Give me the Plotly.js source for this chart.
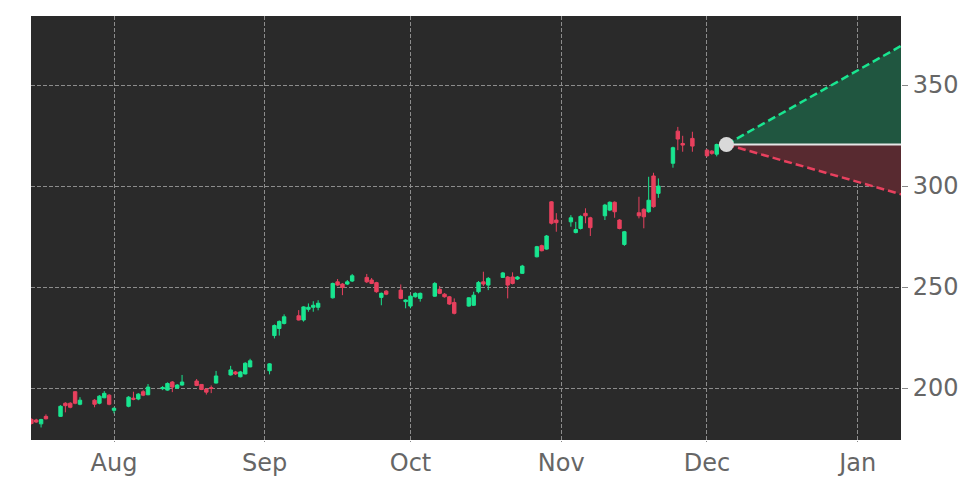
<!DOCTYPE html>
<html>
<head>
<meta charset="utf-8">
<script src="https://cdn.plot.ly/plotly-3.0.1.min.js"></script>
<style>html,body{margin:0;padding:0;background:#fff;}#chart{width:972px;height:486px;}</style>
</head>
<body>
<div id="chart"></div>
<script>
const dates = ['2025-07-15','2025-07-16','2025-07-17','2025-07-18','2025-07-21','2025-07-22','2025-07-23','2025-07-24','2025-07-25','2025-07-28','2025-07-29','2025-07-30','2025-07-31','2025-08-01','2025-08-04','2025-08-05','2025-08-06','2025-08-07','2025-08-08','2025-08-11','2025-08-12','2025-08-13','2025-08-14','2025-08-15','2025-08-18','2025-08-19','2025-08-20','2025-08-21','2025-08-22','2025-08-25','2025-08-26','2025-08-27','2025-08-28','2025-08-29','2025-09-02','2025-09-03','2025-09-04','2025-09-05','2025-09-08','2025-09-09','2025-09-10','2025-09-11','2025-09-12','2025-09-15','2025-09-16','2025-09-17','2025-09-18','2025-09-19','2025-09-22','2025-09-23','2025-09-24','2025-09-25','2025-09-26','2025-09-29','2025-09-30','2025-10-01','2025-10-02','2025-10-03','2025-10-06','2025-10-07','2025-10-08','2025-10-09','2025-10-10','2025-10-13','2025-10-14','2025-10-15','2025-10-16','2025-10-17','2025-10-20','2025-10-21','2025-10-22','2025-10-23','2025-10-24','2025-10-27','2025-10-28','2025-10-29','2025-10-30','2025-10-31','2025-11-03','2025-11-04','2025-11-05','2025-11-06','2025-11-07','2025-11-10','2025-11-11','2025-11-12','2025-11-13','2025-11-14','2025-11-17','2025-11-18','2025-11-19','2025-11-20','2025-11-21','2025-11-24','2025-11-25','2025-11-26','2025-11-28','2025-12-01','2025-12-02','2025-12-03'];
const opens  = [184.5,184.2,182.3,186.0,186.0,192.5,192.5,198.2,192.0,194.0,192.5,195.2,196.5,189.0,191.0,195.0,194.6,198.2,196.7,199.7,199.0,203.0,200.0,201.5,203.5,201.8,199.5,200.2,202.5,206.5,208.0,205.6,207.0,210.5,208.6,226.0,229.5,232.0,235.8,233.7,239.0,240.0,240.0,244.7,252.6,251.5,251.5,253.0,254.8,253.5,252.2,244.9,248.0,248.5,242.8,240.6,245.2,244.4,245.5,248.9,246.5,245.2,242.4,240.6,241.0,247.7,252.6,251.0,254.8,255.0,255.0,254.0,256.8,265.0,270.5,268.8,292.2,283.2,282.3,277.0,279.0,286.5,284.3,285.3,288.1,292.0,283.2,271.1,286.8,288.5,287.3,305.0,296.4,311.3,327.2,321.1,323.6,317.8,317.3,315.8];
const highs  = [185.0,184.8,184.8,187.0,191.5,193.0,193.0,198.5,195.5,194.5,196.5,198.5,197.0,190.5,196.0,198.2,197.5,199.0,202.0,201.0,202.8,203.5,202.0,206.5,204.5,202.0,200.0,201.3,208.5,211.0,208.5,208.5,212.8,214.5,212.3,231.5,233.5,236.5,238.6,240.5,241.9,243.0,243.5,252.2,254.0,252.0,253.5,256.5,256.5,254.5,252.6,247.3,248.5,251.3,244.0,246.0,247.4,247.3,252.5,250.5,247.0,245.6,244.4,245.0,247.7,253.0,257.6,255.0,257.5,255.5,257.3,255.5,261.0,270.4,271.0,275.8,292.5,286.6,285.6,282.3,285.5,289.0,284.8,291.2,292.4,292.4,283.6,277.8,294.7,289.0,304.6,306.6,303.8,319.5,329.3,324.9,326.9,318.3,317.8,321.0];
const lows   = [182.0,182.8,180.5,184.5,185.8,188.0,190.0,192.0,191.5,190.5,192.0,195.0,191.5,187.5,190.5,194.0,194.0,196.0,196.5,199.0,198.7,198.0,199.7,201.2,201.0,199.0,196.8,197.5,202.3,206.2,206.5,205.3,206.8,210.3,206.8,224.6,226.0,231.5,233.5,232.9,237.8,237.8,238.5,244.3,250.5,246.0,251.0,252.5,252.0,251.5,247.2,241.0,246.0,244.0,239.5,239.5,244.8,242.8,245.2,246.5,244.8,241.2,236.5,240.3,240.7,246.9,250.5,248.5,254.5,244.4,251.3,253.5,256.5,264.7,267.7,268.5,281.0,277.4,279.9,276.6,278.5,281.6,275.3,283.2,287.6,284.3,278.6,270.4,284.0,279.1,286.8,289.3,294.2,309.1,317.8,317.0,317.0,314.5,315.5,314.7];
const closes = [182.5,183.2,184.4,184.8,191.0,191.3,190.5,192.5,194.0,192.0,196.0,197.4,192.0,190.0,195.5,194.5,197.0,196.5,200.5,200.3,202.3,200.5,201.5,203.0,201.3,199.3,198.0,199.8,206.0,209.0,207.0,208.0,212.3,213.5,212.0,231.0,233.0,235.3,233.7,240.2,240.0,241.0,242.0,251.8,251.0,249.8,252.6,255.6,252.6,251.8,247.7,246.9,246.5,244.4,243.6,245.5,246.9,246.9,251.8,246.9,245.2,241.6,237.0,244.7,246.0,252.3,251.5,254.3,257.0,251.0,251.8,255.0,260.4,270.0,268.0,275.3,281.6,281.9,284.3,278.5,285.0,285.3,279.4,290.6,292.0,287.3,279.0,277.4,285.3,284.8,293.0,289.8,300.0,319.0,323.3,320.3,319.8,315.0,316.2,320.6];

const projDates = ['2025-12-05','2026-01-10'];
const projBase  = [320.6, 320.6];
const projUpper = [320.6, 369.5];
const projLower = [320.6, 295.9];
const lastPointDate = ['2025-12-05'];
const lastPointValue = [320.6];

const GREEN = '#19e590';
const RED = '#e8405e';

const traces = [
  {type:'candlestick', x:dates, open:opens, high:highs, low:lows, close:closes,
   increasing:{line:{color:GREEN,width:1}, fillcolor:GREEN},
   decreasing:{line:{color:RED,width:1}, fillcolor:RED},
   whiskerwidth:0, hoverinfo:'skip', showlegend:false},
  {type:'scatter', mode:'lines', x:projDates, y:projBase, line:{color:'rgba(0,0,0,0)',width:0}, hoverinfo:'skip', showlegend:false},
  {type:'scatter', mode:'lines', x:projDates, y:projUpper, fill:'tonexty', fillcolor:'rgb(32,86,64)',
   line:{color:GREEN,width:2.5,dash:'8px,4px'}, hoverinfo:'skip', showlegend:false},
  {type:'scatter', mode:'lines', x:projDates, y:projBase, line:{color:'rgba(0,0,0,0)',width:0}, hoverinfo:'skip', showlegend:false},
  {type:'scatter', mode:'lines', x:projDates, y:projLower, fill:'tonexty', fillcolor:'rgb(88,42,48)',
   line:{color:RED,width:2.5,dash:'8px,4px'}, hoverinfo:'skip', showlegend:false},
  {type:'scatter', mode:'lines', x:projDates, y:projBase, line:{color:'#e6e6e6',width:2}, hoverinfo:'skip', showlegend:false},
  {type:'scatter', mode:'markers', x:lastPointDate, y:lastPointValue, marker:{color:'#d9d9d9',size:15}, hoverinfo:'skip', showlegend:false}
];

const layout = {
  width:972, height:486,
  margin:{l:31, r:71, t:16, b:46},
  paper_bgcolor:'#ffffff',
  plot_bgcolor:'#2a2a2a',
  showlegend:false,
  boxgap:0.3, boxgroupgap:0,
  font:{family:'DejaVu Sans', color:'#666666', size:24},
  xaxis:{type:'date', range:['2025-07-14 22:10','2026-01-09 22:00'],
    dtick:'M1', tick0:'2025-08-01', tickformat:'%b',
    showgrid:true, gridcolor:'#8c8c8c', griddash:'4px,2px', gridwidth:1,
    ticks:'outside', ticklen:1, tickcolor:'#888888',
    rangeslider:{visible:false}, zeroline:false, showline:false,
    tickfont:{family:'DejaVu Sans', size:24, color:'#666666'}},
  yaxis:{side:'right', range:[174.3, 384.2], tickvals:[200,250,300,350],
    showgrid:true, gridcolor:'#8c8c8c', griddash:'4px,2px', gridwidth:1,
    ticks:'outside', ticklen:6, tickcolor:'#888888',
    zeroline:false, showline:false,
    tickfont:{family:'DejaVu Sans', size:24, color:'#666666'}}
};

Plotly.newPlot('chart', traces, layout, {staticPlot:true, displayModeBar:false});
</script>
</body>
</html>
